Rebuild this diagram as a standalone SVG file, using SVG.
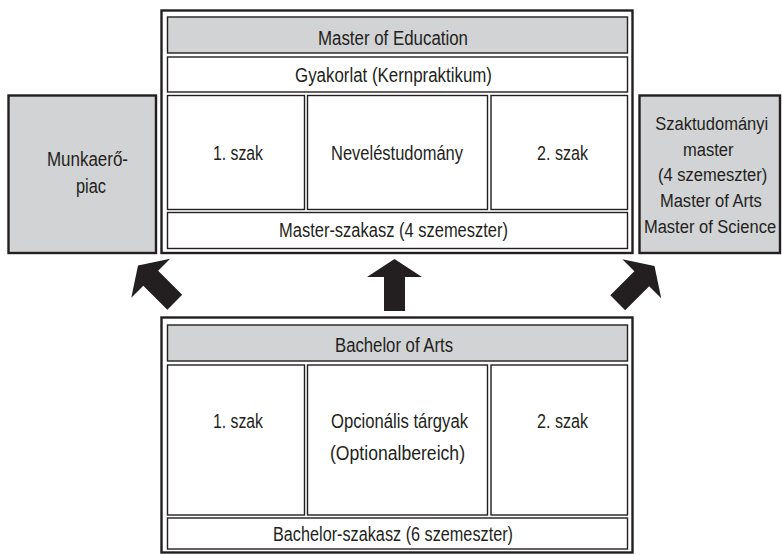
<svg xmlns="http://www.w3.org/2000/svg" width="782" height="555" viewBox="0 0 782 555">
<defs>
<style>
.outer{fill:#ffffff;stroke:#231f20;stroke-width:2.4}
.cell{fill:#ffffff;stroke:#231f20;stroke-width:1.4}
.gray{fill:#d1d3d4;stroke:#231f20;stroke-width:1.4}
.side{fill:#d1d3d4;stroke:#231f20;stroke-width:2.4}
.t{font-family:"Liberation Sans",Arial,sans-serif;font-size:20px;fill:#231f20;text-anchor:middle}
.r{font-size:19px}
.arrow{fill:#231f20}
</style>
<path id="arr" d="M0,0 L27.5,18 L10.5,18 L10.5,52 L-10.5,52 L-10.5,18 L-27.5,18 Z"/>
</defs>
<rect width="782" height="555" fill="#ffffff"/>

<g id="munkaeropiac">
<rect class="side" x="8.5" y="95.5" width="147.5" height="157.5"/>
<text class="t" x="87.5" y="166" textLength="81" lengthAdjust="spacingAndGlyphs">Munkaerő-</text>
<text class="t" x="91" y="193" textLength="30" lengthAdjust="spacingAndGlyphs">piac</text>
</g>

<g id="szakmaster">
<rect class="side" x="639.5" y="95.5" width="140.5" height="157.5"/>
<g transform="translate(710,0) scale(0.87,1)">
<text class="t r" x="2" y="130">Szaktudományi</text>
<text class="t r" x="-2" y="156">master</text>
<text class="t r" x="3" y="181">(4 szemeszter)</text>
<text class="t r" x="1" y="207">Master of Arts</text>
<text class="t r" x="0" y="233">Master of Science</text>
</g>
</g>

<g id="master">
<rect class="outer" x="161.5" y="10.5" width="471" height="242.5"/>
<rect class="gray" x="167.5" y="17" width="460" height="36"/>
<text class="t" x="393" y="45" textLength="150" lengthAdjust="spacingAndGlyphs">Master of Education</text>
<rect class="cell" x="167.5" y="57" width="460" height="35"/>
<text class="t" x="393.5" y="82" textLength="197" lengthAdjust="spacingAndGlyphs">Gyakorlat (Kernpraktikum)</text>
<rect class="cell" x="167.5" y="95.5" width="137" height="114"/>
<text class="t" x="238" y="160" textLength="50" lengthAdjust="spacingAndGlyphs">1. szak</text>
<rect class="cell" x="307.5" y="95.5" width="180" height="114"/>
<text class="t" x="397" y="160" textLength="132" lengthAdjust="spacingAndGlyphs">Neveléstudomány</text>
<rect class="cell" x="491" y="95.5" width="136.5" height="114"/>
<text class="t" x="562.5" y="160" textLength="51" lengthAdjust="spacingAndGlyphs">2. szak</text>
<rect class="cell" x="167.5" y="212.5" width="460" height="36"/>
<text class="t" x="393.5" y="237" textLength="229" lengthAdjust="spacingAndGlyphs">Master-szakasz (4 szemeszter)</text>
</g>

<g id="bachelor">
<rect class="outer" x="161.5" y="317.5" width="471" height="235"/>
<rect class="gray" x="167.5" y="325" width="460" height="36"/>
<text class="t" x="394" y="352" textLength="118" lengthAdjust="spacingAndGlyphs">Bachelor of Arts</text>
<rect class="cell" x="167.5" y="365" width="137" height="150"/>
<text class="t" x="238" y="428" textLength="50" lengthAdjust="spacingAndGlyphs">1. szak</text>
<rect class="cell" x="307.5" y="365" width="180" height="150"/>
<text class="t" x="399.5" y="428" textLength="137" lengthAdjust="spacingAndGlyphs">Opcionális tárgyak</text>
<text class="t" x="397.5" y="460" textLength="135" lengthAdjust="spacingAndGlyphs">(Optionalbereich)</text>
<rect class="cell" x="491" y="365" width="136.5" height="150"/>
<text class="t" x="562.5" y="428" textLength="51" lengthAdjust="spacingAndGlyphs">2. szak</text>
<rect class="cell" x="167.5" y="518" width="460" height="31"/>
<text class="t" x="393" y="541" textLength="240" lengthAdjust="spacingAndGlyphs">Bachelor-szakasz (6 szemeszter)</text>
</g>

<g id="connectors">
<use href="#arr" class="arrow" transform="translate(394.5,259)"/>
<use href="#arr" class="arrow" transform="translate(138,265.5) rotate(-45)"/>
<use href="#arr" class="arrow" transform="translate(654.5,266) rotate(45)"/>
</g>
</svg>
